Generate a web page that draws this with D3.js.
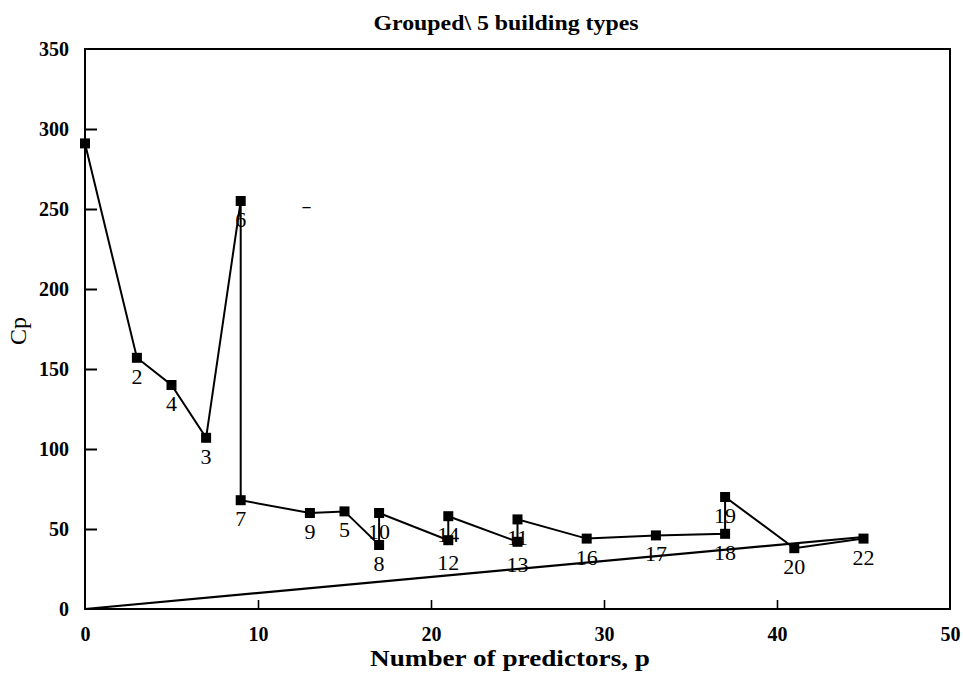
<!DOCTYPE html>
<html>
<head>
<meta charset="utf-8">
<script src="https://cdn.jsdelivr.net/npm/d3@7"></script>
<style>
  html, body { margin: 0; padding: 0; background: #fff; }
  svg { display: block; }
  text { font-family: "Liberation Serif", "DejaVu Serif", serif; fill: #000; }
</style>
</head>
<body>
<svg id="chart" width="963" height="676"></svg>
<script>
// ---- data ----
const title = "Grouped\\ 5 building types";
const xLabel = "Number of predictors, p";
const yLabel = "Cp";
const xTicks = [0, 10, 20, 30, 40, 50];
const yTicks = [0, 50, 100, 150, 200, 250, 300, 350];
// path of the Cp curve, in drawing order
const pValues  = [0, 3, 5, 7, 9, 9, 13, 15, 17, 17, 21, 21, 25, 25, 29, 33, 37, 37, 41, 45];
const cpValues = [291, 157, 140, 107, 255, 68, 60, 61, 40, 60, 43, 58, 42, 56, 44, 46, 47, 70, 38, 44];
const pointLabels = ["", "2", "4", "3", "6", "7", "9", "5", "8", "10", "12", "14", "13", "11", "16", "17", "18", "19", "20", "22"];
// reference line Cp = p
const refP  = [0, 45];
const refCp = [0, 45];
// stray dash mark in the figure
const strayMark = { p: 12.8, cp: 251, text: "–" };

// ---- layout ----
const svg = d3.select("#chart");
const m = { left: 85, right: 950, top: 49, bottom: 609 };
const x = d3.scaleLinear().domain([0, 50]).range([m.left, m.right]);
const y = d3.scaleLinear().domain([0, 350]).range([m.bottom, m.top]);

// frame
svg.append("rect")
  .attr("x", m.left).attr("y", m.top)
  .attr("width", m.right - m.left).attr("height", m.bottom - m.top)
  .attr("fill", "none").attr("stroke", "#000").attr("stroke-width", 2);

// y axis (ticks inward)
const yAxis = d3.axisLeft(y).tickValues(yTicks).tickSize(-12).tickPadding(26)
  .tickFormat(d3.format("d"));
const gy = svg.append("g").attr("transform", `translate(${m.left},0)`).call(yAxis);
gy.select(".domain").remove();
gy.selectAll(".tick line").attr("stroke", "#000").attr("stroke-width", 2)
  .filter(d => d === 0 || d === 350).remove();
gy.selectAll(".tick text").attr("font-size", 20).attr("text-anchor", "end")
  .attr("x", -16).attr("font-weight", "bold");

// x axis (ticks inward)
const xAxis = d3.axisBottom(x).tickValues(xTicks).tickSize(-9).tickPadding(18)
  .tickFormat(d3.format("d"));
const gx = svg.append("g").attr("transform", `translate(0,${m.bottom})`).call(xAxis);
gx.select(".domain").remove();
gx.selectAll(".tick line").attr("stroke", "#000").attr("stroke-width", 1.6)
  .filter(d => d === 0 || d === 50).remove();
gx.selectAll(".tick text").attr("font-size", 20).attr("font-weight", "bold");

// titles
svg.append("text").attr("x", 506).attr("y", 30).attr("text-anchor", "middle")
  .attr("font-size", 21).attr("font-weight", "bold")
  .attr("textLength", 265).attr("lengthAdjust", "spacingAndGlyphs").text(title);
svg.append("text").attr("x", 510).attr("y", 666).attr("text-anchor", "middle")
  .attr("font-size", 23).attr("font-weight", "bold")
  .attr("textLength", 280).attr("lengthAdjust", "spacingAndGlyphs").text(xLabel);
svg.append("text").attr("transform", `translate(26,331) rotate(-90)`)
  .attr("text-anchor", "middle").attr("font-size", 24).text(yLabel);

// reference line
const line = d3.line().x(d => x(d[0])).y(d => y(d[1]));
svg.append("path").datum(refP.map((p, i) => [p, refCp[i]]))
  .attr("d", line).attr("fill", "none").attr("stroke", "#000").attr("stroke-width", 2.2);

// Cp path
const pts = pValues.map((p, i) => [p, cpValues[i], pointLabels[i]]);
svg.append("path").datum(pts).attr("d", line)
  .attr("fill", "none").attr("stroke", "#000").attr("stroke-width", 2);

// markers
const s = 10;
svg.append("g").selectAll("rect").data(pts).join("rect")
  .attr("x", d => x(d[0]) - s / 2).attr("y", d => y(d[1]) - s / 2)
  .attr("width", s).attr("height", s).attr("fill", "#000");

// labels: the lower label of a stacked pair (same p, close Cp) is nudged down a little
const isLowerOfPair = d => pts.some(o => o !== d && o[0] === d[0] && o[1] > d[1] && o[1] - d[1] < 20);
svg.append("g").selectAll("text").data(pts.filter(d => d[2] !== "")).join("text")
  .attr("x", d => x(d[0]))
  .attr("y", d => y(d[1]) + 26 + (isLowerOfPair(d) ? 4 : 0))
  .attr("text-anchor", "middle").attr("font-size", 22).text(d => d[2]);

// stray mark
svg.append("text").attr("x", x(strayMark.p)).attr("y", y(strayMark.cp) + 5)
  .attr("text-anchor", "middle").attr("font-size", 16).attr("font-weight", "bold")
  .text(strayMark.text);
</script>
</body>
</html>
